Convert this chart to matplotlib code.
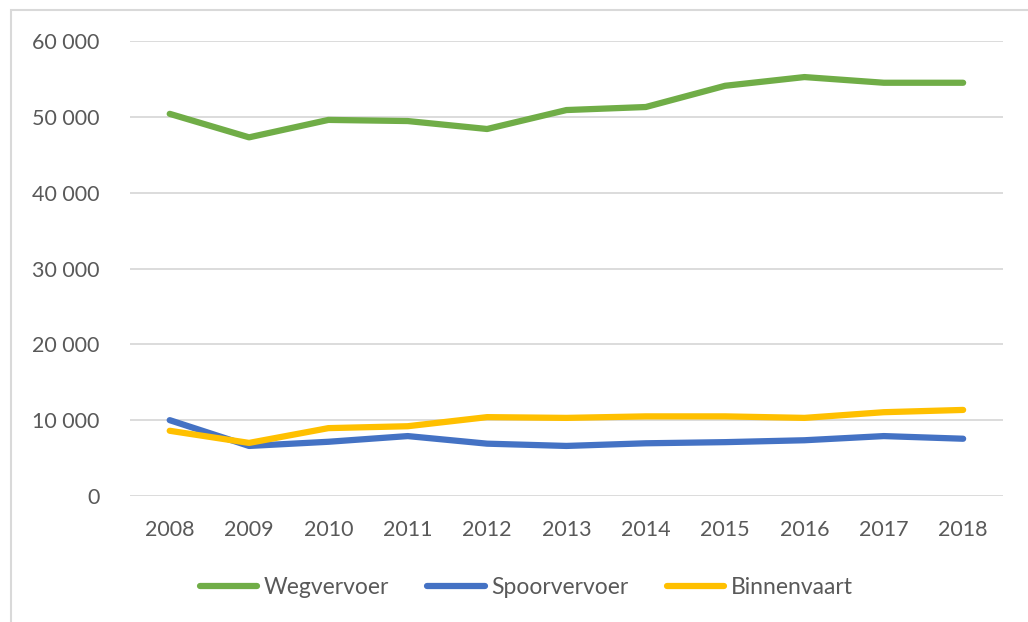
import matplotlib.pyplot as plt
from matplotlib.ticker import FuncFormatter, MultipleLocator
from matplotlib.patches import Rectangle

# jaren en vervoerde tonnen per modaliteit
jaren = ['2008', '2009', '2010', '2011', '2012', '2013', '2014', '2015', '2016', '2017', '2018']
wegvervoer = [50400, 47300, 49600, 49450, 48400, 50900, 51300, 54100, 55250, 54500, 54500]
spoorvervoer = [10000, 6600, 7150, 7900, 6900, 6600, 6950, 7100, 7350, 7900, 7550]
binnenvaart = [8600, 7000, 8950, 9200, 10400, 10300, 10500, 10500, 10300, 11050, 11350]

plt.rcParams['font.family'] = ['Lato', 'DejaVu Sans']

fig = plt.figure(figsize=(10.28, 6.22), dpi=100)
ax = fig.add_axes([0.1265, 0.2026, 0.849, 0.7314])

x = range(len(jaren))
ax.plot(x, wegvervoer, color='#70ad47', lw=4.5, label='Wegvervoer', solid_capstyle='round')
ax.plot(x, spoorvervoer, color='#4472c4', lw=4.5, label='Spoorvervoer', solid_capstyle='round')
ax.plot(x, binnenvaart, color='#ffc000', lw=4.5, label='Binnenvaart', solid_capstyle='round')

ax.set_xlim(-0.5, len(jaren) - 0.5)
ax.set_ylim(0, 60000)
ax.yaxis.set_major_locator(MultipleLocator(10000))
ax.yaxis.set_major_formatter(FuncFormatter(lambda v, p: f'{int(v):,}'.replace(',', ' ')))
ax.set_xticks(list(x))
ax.set_xticklabels(jaren)
ax.grid(axis='y', color='#d9d9d9', lw=1.3)
ax.set_axisbelow(True)
for s in ax.spines.values():
    s.set_visible(False)
ax.tick_params(length=0, labelsize=15.5, colors='#595959')
ax.tick_params(axis='y', pad=22)
ax.tick_params(axis='x', pad=17)

leg = fig.legend(loc='center', bbox_to_anchor=(0.512, 0.055), ncol=3, frameon=False,
                 fontsize=16.5, handlelength=2.5, handletextpad=0.3, columnspacing=1.65)
for t in leg.get_texts():
    t.set_color('#595959')

# rand om de grafiek
fig.patches.append(Rectangle((11 / 1028, -0.1), 1.2, 1 - 10 / 622 + 0.1,
                             transform=fig.transFigure, fill=False,
                             edgecolor='#d9d9d9', lw=1.5))

fig.savefig('out.png', dpi=100)
